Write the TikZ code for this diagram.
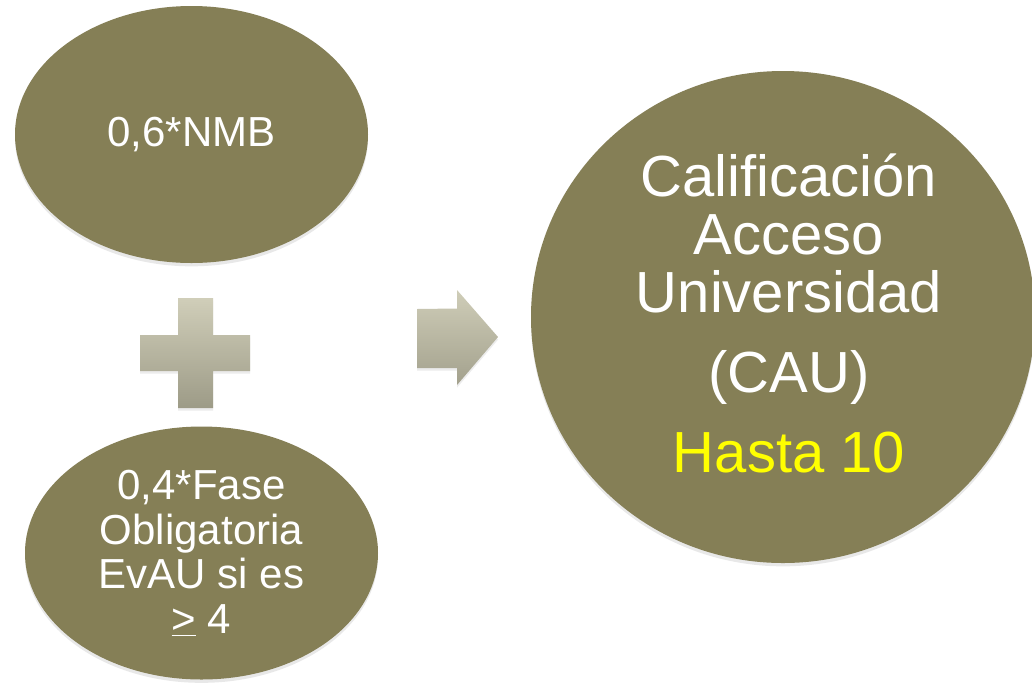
\documentclass[tikz,border=0pt]{standalone}
\usepackage{fontspec}
\setmainfont{Liberation Sans}
\usetikzlibrary{shapes.geometric,shadows}
\definecolor{olive}{HTML}{857F56}
\definecolor{hasta}{HTML}{FFFF00}
\definecolor{plustop}{HTML}{D0CEB9}
\definecolor{plusbot}{HTML}{9D9B87}
\definecolor{arrtop}{HTML}{CFCDB8}
\definecolor{arrbot}{HTML}{A3A18D}
\tikzset{
  blob/.style={ellipse, fill=olive, inner sep=0pt, text=white, align=center,
    drop shadow={opacity=0.18, shadow xshift=0pt, shadow yshift=-2.5pt}},
  label/.style={text=white, align=center, inner sep=0pt},
  smallfont/.style={font=\fontsize{31.5}{33.4}\selectfont},
  bigfont/.style={font=\fontsize{43.5}{43.5}\selectfont},
  glyph/.style={top color=plustop, bottom color=plusbot,
    drop shadow={opacity=0.15, shadow xshift=0pt, shadow yshift=-2pt}},
}
\begin{document}
\begin{tikzpicture}[x=0.75pt,y=-0.75pt]
\useasboundingbox (0,0) rectangle (1032,683);
\fill[white] (0,0) rectangle (1032,683);
% top ellipse
\node[blob, smallfont, minimum width=264.75pt, minimum height=192.75pt] (nmb) at (191.5,134.5) {0,6*NMB};
% bottom ellipse
\node[blob, smallfont, minimum width=264.75pt, minimum height=189.75pt] (fase) at (201.5,553)
  {0,4*Fase\\Obligatoria\\EvAU si es\\\underline{>} 4};
% right circle
\node[blob, minimum width=378pt, minimum height=369pt] (cau) at (783,317) {};
\node[label, bigfont] (caut) at (789,313)
  {Calificación\\Acceso\\Universidad\\[16.5pt](CAU)\\[16.5pt]\textcolor{hasta}{Hasta 10}};
% plus sign
\shade[glyph] (178,298) -- (213,298) -- (213,335) -- (250,335) -- (250,371) -- (213,371)
  -- (213,408) -- (178,408) -- (178,371) -- (140,371) -- (140,335) -- (178,335) -- cycle;
% arrow
\shade[glyph, top color=arrtop, bottom color=arrbot] (417,309) -- (457,308.5) -- (457,290) -- (498,337)
  -- (457,385) -- (457,368) -- (417,368) -- cycle;
\end{tikzpicture}
\end{document}
